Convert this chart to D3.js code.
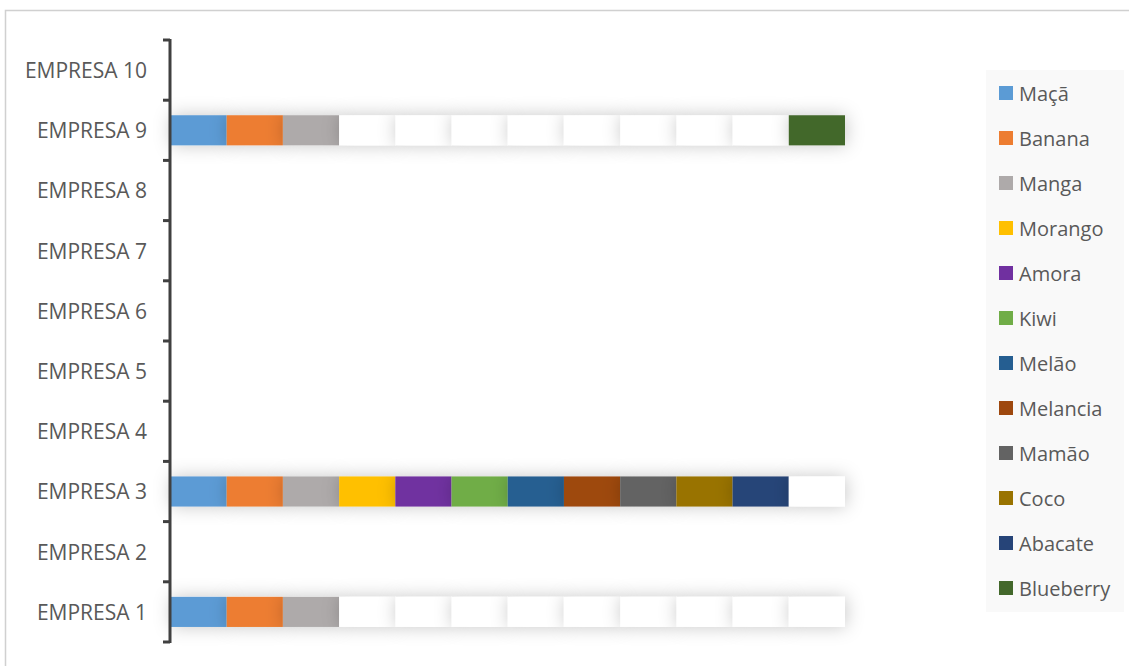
<!DOCTYPE html>
<html><head><meta charset="utf-8">
<script src="https://cdn.jsdelivr.net/npm/d3@7/dist/d3.min.js"></script>
<style>
html,body{margin:0;padding:0;background:#fff;}
svg text{font-family:"Open Sans",sans-serif;fill:#595959;}
</style></head>
<body>
<svg id="chart" width="1129" height="666"></svg>
<script>
const companies = ["EMPRESA 1","EMPRESA 2","EMPRESA 3","EMPRESA 4","EMPRESA 5","EMPRESA 6","EMPRESA 7","EMPRESA 8","EMPRESA 9","EMPRESA 10"];
const seriesNames = ["Maçã","Banana","Manga","Morango","Amora","Kiwi","Melão","Melancia","Mamão","Coco","Abacate","Blueberry"];
const seriesColors = ["#5b9bd5","#ed7d31","#aeaaaa","#ffc000","#7030a0","#70ad47","#255e91","#9e480e","#636363","#997300","#264478","#43682b"];
// values per series, in company order (EMPRESA 1..10)
const maca      = [1,0,1,0,0,0,0,0,1,0];
const banana    = [1,0,1,0,0,0,0,0,1,0];
const manga     = [1,0,1,0,0,0,0,0,1,0];
const morango   = [1,0,1,0,0,0,0,0,1,0];
const amora     = [1,0,1,0,0,0,0,0,1,0];
const kiwi      = [1,0,1,0,0,0,0,0,1,0];
const melao     = [1,0,1,0,0,0,0,0,1,0];
const melancia  = [1,0,1,0,0,0,0,0,1,0];
const mamao     = [1,0,1,0,0,0,0,0,1,0];
const coco      = [1,0,1,0,0,0,0,0,1,0];
const abacate   = [1,0,1,0,0,0,0,0,1,0];
const blueberry = [1,0,1,0,0,0,0,0,1,0];
// 1 = segment filled with series colour, 0 = segment filled white
const filledMaca      = [1,0,1,0,0,0,0,0,1,0];
const filledBanana    = [1,0,1,0,0,0,0,0,1,0];
const filledManga     = [1,0,1,0,0,0,0,0,1,0];
const filledMorango   = [0,0,1,0,0,0,0,0,0,0];
const filledAmora     = [0,0,1,0,0,0,0,0,0,0];
const filledKiwi      = [0,0,1,0,0,0,0,0,0,0];
const filledMelao     = [0,0,1,0,0,0,0,0,0,0];
const filledMelancia  = [0,0,1,0,0,0,0,0,0,0];
const filledMamao     = [0,0,1,0,0,0,0,0,0,0];
const filledCoco      = [0,0,1,0,0,0,0,0,0,0];
const filledAbacate   = [0,0,1,0,0,0,0,0,0,0];
const filledBlueberry = [0,0,0,0,0,0,0,0,1,0];

const values = [maca,banana,manga,morango,amora,kiwi,melao,melancia,mamao,coco,abacate,blueberry];
const filled = [filledMaca,filledBanana,filledManga,filledMorango,filledAmora,filledKiwi,filledMelao,filledMelancia,filledMamao,filledCoco,filledAbacate,filledBlueberry];

const svg = d3.select("#chart");
const W = 1129, H = 666;

// chart area border
svg.append("rect").attr("x",5.5).attr("y",10.5).attr("width",W+10).attr("height",H+10)
  .attr("fill","#fff").attr("stroke","#d0d0d0").attr("stroke-width",1.5);

const defs = svg.append("defs");
const f = defs.append("filter").attr("id","shadow").attr("x","-80%").attr("y","-100%").attr("width","260%").attr("height","300%");
f.append("feDropShadow").attr("dx",1).attr("dy",0).attr("stdDeviation",9)
  .attr("flood-color","#000").attr("flood-opacity",0.22);

const table = companies.map((c,i)=>{
  const o = {company:c};
  seriesNames.forEach((s,j)=>{ o[s] = values[j][i]; });
  return o;
});
const stack = d3.stack().keys(seriesNames)(table);

const x = d3.scaleLinear().domain([0,12]).range([170.5,845]);
const y = d3.scaleBand().domain(companies.slice().reverse()).range([40,642]).paddingInner(0.5).paddingOuter(0.25);
const yBand = d3.scaleBand().domain(companies.slice().reverse()).range([40,642]);

const plot = svg.append("g");
stack.forEach((layer,j)=>{
  const g = plot.append("g");
  g.selectAll("rect").data(layer.map((d,i)=>({d,i})).filter(o=>o.d[1]-o.d[0]>0))
    .join("rect")
    .attr("x",o=>x(o.d[0]))
    .attr("width",o=>x(o.d[1])-x(o.d[0]))
    .attr("y",o=>y(companies[o.i]))
    .attr("height",y.bandwidth())
    .attr("fill",o=>filled[j][o.i] ? seriesColors[j] : "#ffffff")
    .attr("filter","url(#shadow)");
});

// y axis
const yAxis = d3.axisLeft(yBand).tickSize(0).tickPadding(20);
const ag = svg.append("g").attr("transform","translate(170,0)");
ag.call(yAxis);
ag.select(".domain").remove();
ag.selectAll(".tick text").attr("font-size",21).attr("fill","#595959").attr("font-family","Open Sans, sans-serif").attr("dx",-3).attr("dy","0.38em");
ag.append("line").attr("x1",0).attr("x2",0).attr("y1",39).attr("y2",643).attr("stroke","#404040").attr("stroke-width",3);
const bounds = d3.range(11).map(k=>40 + k*yBand.step());
ag.selectAll(".bt").data(bounds).join("line").attr("class","bt")
  .attr("x1",-7).attr("x2",0).attr("y1",d=>d).attr("y2",d=>d)
  .attr("stroke","#404040").attr("stroke-width",3);

// legend
const lg = svg.append("g");
lg.append("rect").attr("x",986).attr("y",70).attr("width",138).attr("height",542).attr("fill","#f9f9f9");
const ly = d3.scalePoint().domain(seriesNames).range([93,588]);
const items = lg.selectAll(".li").data(seriesNames).join("g").attr("class","li")
  .attr("transform",d=>`translate(999,${ly(d)})`);
items.append("rect").attr("x",0).attr("y",-7).attr("width",14).attr("height",14)
  .attr("fill",(d,i)=>seriesColors[i]);
items.append("text").attr("x",20).attr("y",0).attr("dy","0.38em").attr("font-size",20).text(d=>d);
</script>
</body></html>
